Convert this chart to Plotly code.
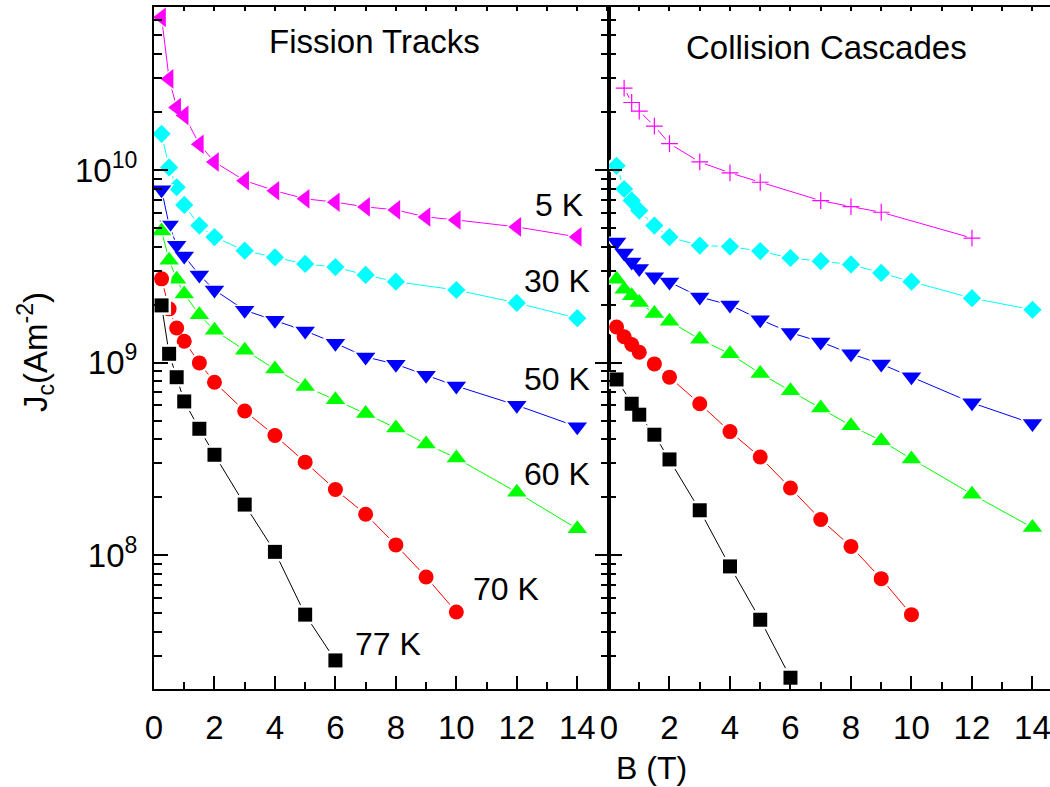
import plotly.graph_objects as go

# ---------------- data ----------------
B16 = [0.25, 0.5, 0.75, 1, 1.5, 2, 3, 4, 5, 6, 7, 8, 9, 10, 12, 14]
B_ft_30K = [0.25, 0.5, 0.75, 1, 1.5, 2, 3, 4, 5, 6, 7, 8, 10, 12, 14]
B_70K = [0.25, 0.5, 0.75, 1, 1.5, 2, 3, 4, 5, 6, 7, 8, 9, 10]
B_ft_77K = [0.25, 0.5, 0.75, 1, 1.5, 2, 3, 4, 5, 6]
B_cc_5K = [0.5, 0.75, 1, 1.5, 2, 3, 4, 5, 7, 8, 9, 12]
B_cc_77K = [0.25, 0.75, 1, 1.5, 2, 3, 4, 5, 6]

# Fission Tracks panel
ft_5K = [6.2e10, 2.97e10, 2.11e10, 1.92e10, 1.36e10, 1.10e10, 8.8e9, 7.8e9,
         7.08e9, 6.8e9, 6.43e9, 6.2e9, 5.7e9, 5.5e9, 5.06e9, 4.49e9]
ft_30K = [1.54e10, 1.03e10, 8.13e9, 6.58e9, 5.14e9, 4.48e9, 3.81e9, 3.52e9,
          3.25e9, 3.13e9, 2.85e9, 2.63e9, 2.38e9, 2.04e9, 1.70e9]
ft_50K = [7.9e9, 5.17e9, 4.07e9, 3.57e9, 2.85e9, 2.38e9, 1.87e9, 1.66e9,
          1.46e9, 1.26e9, 1.07e9, 9.8e8, 8.6e8, 7.55e8, 6.0e8, 4.64e8]
ft_60K = [4.82e9, 3.40e9, 2.71e9, 2.27e9, 1.77e9, 1.47e9, 1.16e9, 9.25e8,
          7.52e8, 6.41e8, 5.43e8, 4.57e8, 3.78e8, 3.19e8, 2.12e8, 1.37e8]
ft_70K = [2.72e9, 1.90e9, 1.51e9, 1.29e9, 9.96e8, 7.9e8, 5.6e8, 4.18e8,
          3.04e8, 2.19e8, 1.63e8, 1.13e8, 7.7e7, 5.07e7]
ft_77K = [1.98e9, 1.11e9, 8.39e8, 6.28e8, 4.53e8, 3.32e8, 1.83e8, 1.04e8,
          4.91e7, 2.84e7]

# Collision Cascades panel
cc_5K = [2.66e10, 2.24e10, 2.02e10, 1.69e10, 1.37e10, 1.10e10, 9.65e9, 8.63e9,
         6.93e9, 6.45e9, 6.03e9, 4.43e9]
cc_30K = [1.05e10, 7.96e9, 6.93e9, 6.15e9, 5.14e9, 4.48e9, 4.05e9, 4.00e9,
          3.79e9, 3.49e9, 3.36e9, 3.23e9, 2.92e9, 2.63e9, 2.16e9, 1.88e9]
cc_50K = [4.23e9, 3.71e9, 3.33e9, 3.08e9, 2.79e9, 2.62e9, 2.19e9, 1.99e9,
          1.67e9, 1.43e9, 1.28e9, 1.11e9, 9.82e8, 8.44e8, 6.18e8, 4.82e8]
cc_60K = [2.71e9, 2.40e9, 2.22e9, 2.05e9, 1.80e9, 1.64e9, 1.32e9, 1.11e9,
          8.78e8, 7.13e8, 5.80e8, 4.70e8, 3.93e8, 3.16e8, 2.07e8, 1.39e8]
cc_70K = [1.53e9, 1.36e9, 1.24e9, 1.13e9, 9.84e8, 8.40e8, 6.11e8, 4.38e8,
          3.23e8, 2.23e8, 1.53e8, 1.11e8, 7.55e7, 4.91e7]
cc_77K = [8.17e8, 6.11e8, 5.36e8, 4.22e8, 3.14e8, 1.71e8, 8.74e7, 4.62e7, 2.31e7]

temp_labels = ["5 K", "30 K", "50 K", "60 K", "70 K", "77 K"]
panel_titles = ["Fission Tracks", "Collision Cascades"]
x_ticks = [0, 2, 4, 6, 8, 10, 12, 14]
y_ticks = [1e8, 1e9, 1e10]
y_ticktext = ["10<sup>8</sup>", "10<sup>9</sup>", "10<sup>10</sup>"]

# ---------------- styling ----------------
FONT = "Liberation Sans, Arial, Helvetica, sans-serif"
W, H = 1050, 787
TICK_FS = 33
style = {
    "5K": dict(color="#FF00FF", symbol="triangle-left", size=17),
    "5Kc": dict(color="#FF00FF", symbol="cross-thin", size=12),
    "30K": dict(color="#00FFFF", symbol="diamond", size=14),
    "50K": dict(color="#0000FF", symbol="triangle-down", size=17),
    "60K": dict(color="#00FF00", symbol="triangle-up", size=17),
    "70K": dict(color="#FF0000", symbol="circle", size=15),
    "77K": dict(color="#000000", symbol="square", size=14),
}

series = [
    ("x", "y", B16, ft_5K, "5K"),
    ("x", "y", B_ft_30K, ft_30K, "30K"),
    ("x", "y", B16, ft_50K, "50K"),
    ("x", "y", B16, ft_60K, "60K"),
    ("x", "y", B_70K, ft_70K, "70K"),
    ("x", "y", B_ft_77K, ft_77K, "77K"),
    ("x2", "y2", B_cc_5K, cc_5K, "5Kc"),
    ("x2", "y2", B16, cc_30K, "30K"),
    ("x2", "y2", B16, cc_50K, "50K"),
    ("x2", "y2", B16, cc_60K, "60K"),
    ("x2", "y2", B_70K, cc_70K, "70K"),
    ("x2", "y2", B_cc_77K, cc_77K, "77K"),
]

fig = go.Figure()
for xa, ya, xs, ys, key in series:
    st = style[key]
    fig.add_trace(go.Scatter(x=xs, y=ys, xaxis=xa, yaxis=ya, mode="lines",
                             line=dict(color=st["color"], width=1),
                             showlegend=False, hoverinfo="skip"))
    halo_sym = "circle" if st["symbol"] == "cross-thin" else st["symbol"]
    halo_size = 11 if st["symbol"] == "cross-thin" else st["size"] + 5
    fig.add_trace(go.Scatter(x=xs, y=ys, xaxis=xa, yaxis=ya, mode="markers",
                             marker=dict(symbol=halo_sym, size=halo_size, color="white",
                                         line=dict(width=0)),
                             cliponaxis=False, showlegend=False, hoverinfo="skip"))
    if st["symbol"] == "cross-thin":
        mk = dict(symbol="cross-thin", size=st["size"],
                  line=dict(color=st["color"], width=1.2))
    else:
        mk = dict(symbol=st["symbol"], size=st["size"], color=st["color"],
                  line=dict(width=0))
    fig.add_trace(go.Scatter(x=xs, y=ys, xaxis=xa, yaxis=ya, mode="markers",
                             marker=mk, cliponaxis=False, showlegend=False))

# dummy traces so the top (tick-only) axes get drawn
fig.add_trace(go.Scatter(x=[None], y=[None], xaxis="x3", yaxis="y", showlegend=False))
fig.add_trace(go.Scatter(x=[None], y=[None], xaxis="x4", yaxis="y2", showlegend=False))

# ---------------- axes ----------------
x_left = 154 / W
x_mid = 609 / W
y_bot = 1 - 689 / H
y_top = 1 - 7 / H
x_range_left = [0, 15.05]
x_range_right = [0, 14.58]
y_range = [7.305, 10.846]

minor_y = []
for d in range(7, 11):
    for k in range(2, 10):
        v = k * 10 ** d
        if 2.03e7 < v < 6.9e10:
            minor_y.append(v)
minor_x = [1, 3, 5, 7, 9, 11, 13]

common_x = dict(showline=True, linewidth=2, linecolor="black", ticks="inside",
                ticklen=13, tickwidth=2, tickcolor="black", tickvals=x_ticks,
                ticktext=[str(v) for v in x_ticks], showgrid=False, zeroline=False,
                automargin=False, ticklabeloverflow="allow",
                tickfont=dict(family=FONT, size=TICK_FS, color="black"),
                ticklabelstandoff=8,
                minor=dict(tickvals=minor_x, ticks="inside", ticklen=7, tickwidth=2,
                           tickcolor="black", showgrid=False))
common_y = dict(type="log", range=y_range, domain=[y_bot, y_top], showline=True,
                linewidth=2, linecolor="black", ticks="inside", ticklen=14, tickwidth=2,
                tickcolor="black", tickvals=y_ticks, ticktext=y_ticktext, showgrid=False,
                zeroline=False, automargin=False,
                minor=dict(tickvals=minor_y, ticks="inside", ticklen=8, tickwidth=2,
                           tickcolor="black", showgrid=False))
top_x = dict(showline=True, linewidth=2, linecolor="black", ticks="inside", ticklen=4,
             tickwidth=1.5, tickcolor="black", tickvals=list(range(0, 16)),
             showticklabels=False, showgrid=False, zeroline=False, side="top",
             automargin=False)

fig.update_layout(
    width=W, height=H, margin=dict(l=0, r=0, t=0, b=0, autoexpand=False),
    paper_bgcolor="white", plot_bgcolor="white", showlegend=False,
    xaxis=dict(domain=[x_left, x_mid], range=x_range_left, anchor="y", **common_x),
    xaxis2=dict(domain=[x_mid, 1.0], range=x_range_right, anchor="y2", **common_x),
    xaxis3=dict(overlaying="x", range=x_range_left, anchor="y", **top_x),
    xaxis4=dict(overlaying="x2", range=x_range_right, anchor="y2", **top_x),
    yaxis=dict(anchor="x", mirror="ticks", ticklabelstandoff=8,
               tickfont=dict(family=FONT, size=TICK_FS, color="black"), **common_y),
    yaxis2=dict(anchor="x2", showticklabels=False, **{**common_y, "ticklen": 13,
                "minor": dict(tickvals=minor_y, ticks="inside", ticklen=7, tickwidth=2,
                              tickcolor="black", showgrid=False)}),
)

# ---------------- text ----------------
def ann(text, px, py, size=30, angle=0):
    fig.add_annotation(text=text, x=px / W, y=1 - py / H, xref="paper", yref="paper",
                       showarrow=False, xanchor="center", yanchor="middle",
                       textangle=angle, font=dict(family=FONT, size=size, color="black"))

ann(panel_titles[0], 374, 42, 33)
ann(panel_titles[1], 826, 48, 33)
label_pos = [(559, 205), (557, 281), (557, 379), (557, 474), (506, 589), (388, 644)]
for t, (px, py) in zip(temp_labels, label_pos):
    ann(t, px, py, 32)
ann("J<sub>c</sub>(Am<sup>-2</sup>)", 35, 352, 33, -90)
ann("B (T)", 651, 768, 32)

fig.write_html("out.html")
